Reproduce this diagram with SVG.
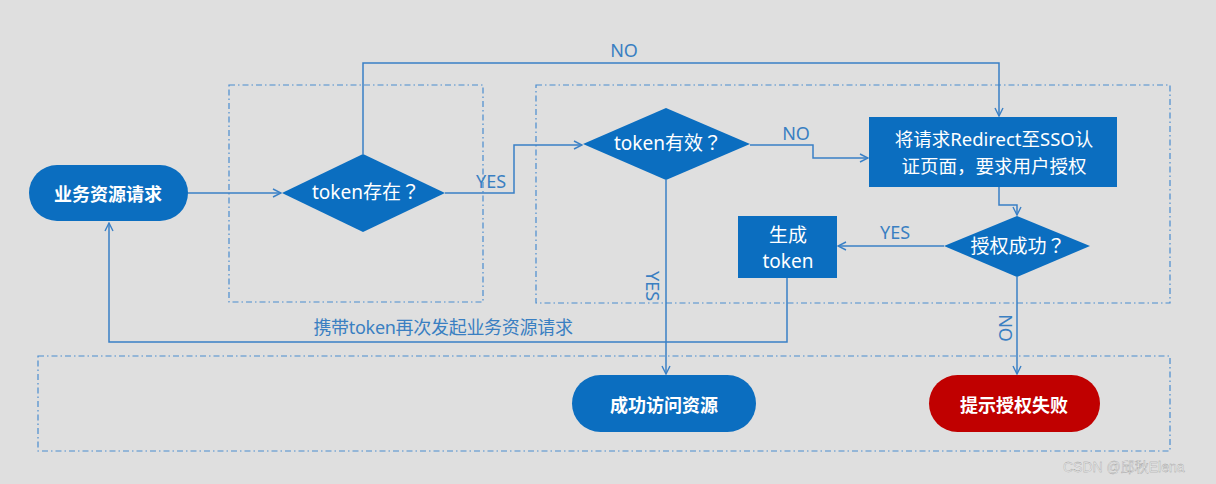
<svg xmlns="http://www.w3.org/2000/svg" width="1216" height="484" viewBox="0 0 1216 484">
<style>
.bg{fill:#dfdfdf}
.grp{fill:none;stroke:#4a8dd0;stroke-width:1.2;stroke-dasharray:6,3,1.5,3}
.shape{fill:#0b6ec0}
.red{fill:#c00000}
.wt{fill:#ffffff;font-family:"Noto Sans","Noto Sans CJK TC",sans-serif;font-size:19px;text-anchor:middle;dominant-baseline:central}
.wr{fill:#ffffff;font-family:"Noto Sans","Noto Sans CJK SC",sans-serif;font-size:18.5px;text-anchor:middle;dominant-baseline:central}
.wb{fill:#ffffff;font-family:"Noto Sans CJK SC",sans-serif;font-size:18px;font-weight:bold;text-anchor:middle;dominant-baseline:central}
.conn{fill:none;stroke:#3a80c6;stroke-width:1.5}
.lbl{fill:#3a7fc2;font-family:"Noto Sans","Noto Sans CJK SC",sans-serif;font-size:18px;text-anchor:middle;dominant-baseline:central}
.lbl2{fill:#3a7fc2;font-family:"Noto Sans","Noto Sans CJK SC",sans-serif;font-size:18px;text-anchor:middle;dominant-baseline:central;letter-spacing:-0.3px}
.wm{fill:#f2f2f2;stroke:#9a9a9a;stroke-width:0.35;font-family:"Liberation Sans","Noto Sans CJK SC",sans-serif;font-size:14px}
</style>
<defs>
<marker id="arr" viewBox="0 0 10 10" refX="9" refY="5" markerWidth="10" markerHeight="10" markerUnits="userSpaceOnUse" orient="auto">
<path d="M1,1 L9,5 L1,9" fill="none" stroke="#3a80c6" stroke-width="1.4"/>
</marker>
</defs>
<rect class="bg" x="0" y="0" width="1216" height="484"/>
<g id="groups">
<rect class="grp" x="229" y="85" width="254" height="217"/>
<rect class="grp" x="536" y="85" width="634" height="218"/>
<rect class="grp" x="38" y="356" width="1132" height="95"/>
</g>
<g id="connectors">
<path class="conn" d="M188,193 L281,193" marker-end="url(#arr)"/>
<path class="conn" d="M363,154 L363,63 L999,63 L999,116" marker-end="url(#arr)"/>
<path class="conn" d="M445,193 L514,193 L514,145 L582,145" marker-end="url(#arr)"/>
<path class="conn" d="M750,145 L813,145 L813,158 L868,158" marker-end="url(#arr)"/>
<path class="conn" d="M999,187 L999,205 L1017,205 L1017,215" marker-end="url(#arr)"/>
<path class="conn" d="M944,246 L838,246" marker-end="url(#arr)"/>
<path class="conn" d="M1017,277 L1017,374" marker-end="url(#arr)"/>
<path class="conn" d="M666,180 L666,374" marker-end="url(#arr)"/>
<path class="conn" d="M787,278 L787,342 L109,342 L109,223" marker-end="url(#arr)"/>
<text class="lbl" x="624" y="50">NO</text>
<text class="lbl" x="491" y="181">YES</text>
<text class="lbl" x="796" y="133">NO</text>
<text class="lbl" x="895" y="232">YES</text>
<text class="lbl" transform="translate(1006,328) rotate(90)">NO</text>
<text class="lbl" transform="translate(653,286) rotate(90)">YES</text>
<text class="lbl2" x="443" y="327">携带token再次发起业务资源请求</text>
</g>
<g id="n-request">
<rect class="shape" x="29" y="165" width="159" height="56" rx="28"/>
<text class="wb" x="108" y="193">业务资源请求</text>
</g>
<g id="n-exists">
<polygon class="shape" points="282,193 363,154 445,193 363,232"/>
<text class="wt" x="366" y="192">token存在？</text>
</g>
<g id="n-valid">
<polygon class="shape" points="583,144 666,108 750,144 666,180"/>
<text class="wt" x="668" y="143">token有效？</text>
</g>
<g id="n-redirect">
<rect class="shape" x="869" y="117" width="248" height="70"/>
<text class="wr" x="994" y="138">将请求Redirect至SSO认</text>
<text class="wr" x="994" y="165">证页面，要求用户授权</text>
</g>
<g id="n-authok">
<polygon class="shape" points="944,246 1017,216 1090,246 1017,277"/>
<text class="wt" x="1018" y="246">授权成功？</text>
</g>
<g id="n-gentoken">
<rect class="shape" x="738" y="216" width="99" height="62"/>
<text class="wt" x="788" y="235">生成</text>
<text class="wt" x="788" y="261">token</text>
</g>
<g id="n-success">
<rect class="shape" x="572" y="375" width="184" height="57" rx="28.5"/>
<text class="wb" x="664" y="404">成功访问资源</text>
</g>
<g id="n-fail">
<rect class="red" x="929" y="375" width="171" height="57" rx="28.5"/>
<text class="wb" x="1014" y="404">提示授权失败</text>
</g>
<text class="wm" x="1063" y="472">CSDN @邱秋Elena</text>
</svg>
